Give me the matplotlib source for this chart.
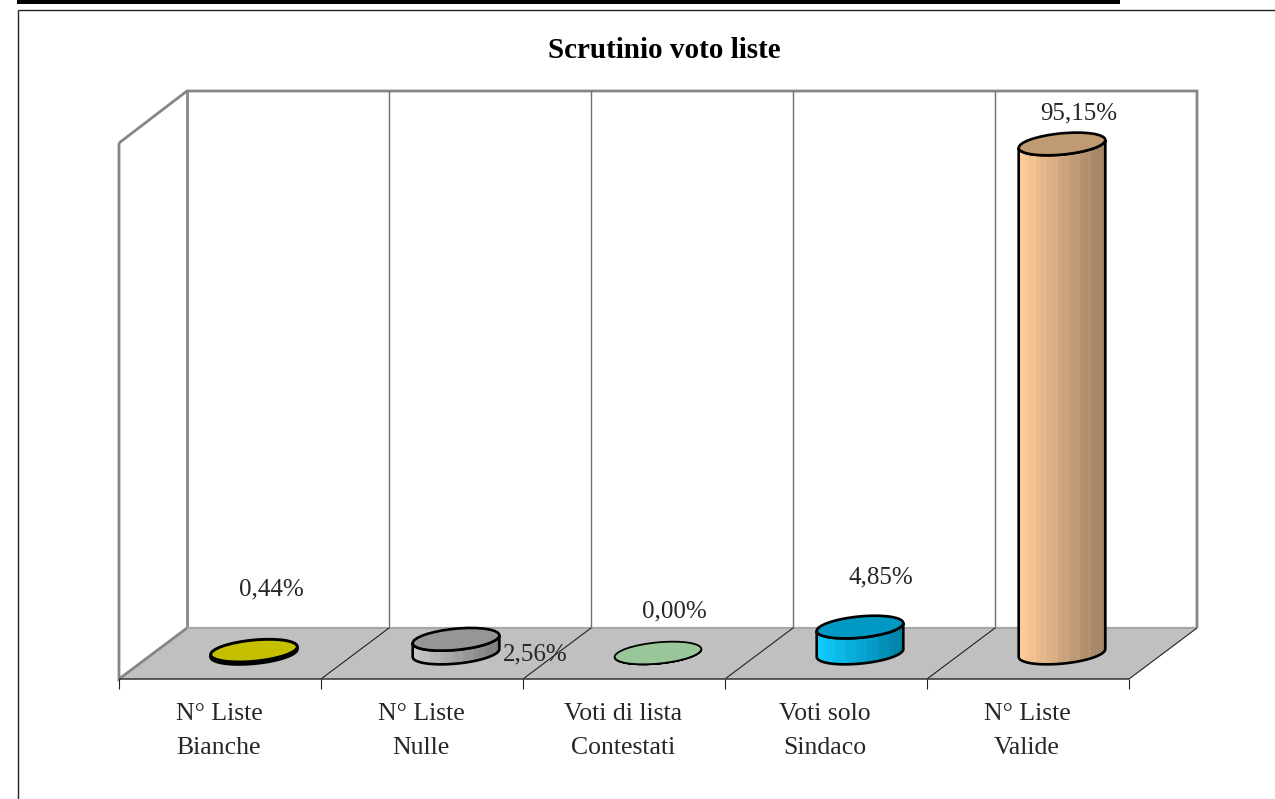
import numpy as np
import matplotlib
matplotlib.use("Agg")
import matplotlib.pyplot as plt
from matplotlib.colors import LinearSegmentedColormap
from matplotlib.patches import Polygon, Ellipse

categories = ["N° Liste\nBianche", "N° Liste\nNulle", "Voti di lista\nContestati",
              "Voti solo\nSindaco", "N° Liste\nValide"]
values = [0.44, 2.56, 0.00, 4.85, 95.15]
value_labels = ["0,44%", "2,56%", "0,00%", "4,85%", "95,15%"]
title = "Scrutinio voto liste"

# styles, one per bar: top, body left, body right
top_colors = ["#C4C000", "#969696", "#99C799", "#0099C4", "#C09A70"]
body_left = ["#E0DC00", "#C8C8C8", "#A8D8A8", "#0FCCFF", "#FFCC99"]
body_right = ["#8C8A00", "#7C7C7C", "#78A078", "#007FA3", "#9C8064"]
edge_widths = [2.1, 1.9, 1.3, 1.9, 1.9]

# label centres in pixels, chart frame in pixels
label_pos = [(271, 589), (535, 654), (674, 611), (881, 577), (1079, 113)]
front_x, back_x = 119, 187
front_y, back_y, wall_top = 679, 628, 91
cat_w = 202
depth_x, depth_y = back_x - front_x, front_y - back_y
px_per_pct = 5.35
base_y = 653
first_x = 254

GRAY = "#868686"
TEXT = "#262626"

plt.rcParams["font.family"] = ["Liberation Serif", "DejaVu Serif"]

fig = plt.figure(figsize=(12.75, 7.99), dpi=100)
ax = fig.add_axes([0, 0, 1, 1])
ax.set_axis_off()


def line(xs, ys, color=GRAY, lw=1.5, z=2):
    ax.plot(xs, ys, color=color, lw=lw, solid_capstyle="butt", solid_joinstyle="miter", zorder=z)


# page rules and outer frame
line([17, 1120], [1.5, 1.5], "black", 2.9, 1)
line([18, 1275], [10, 10], "#222222", 1.0, 1)
line([18, 18], [10, 799], "#222222", 1.0, 1)

# floor
right_x = front_x + cat_w * len(values)
ax.add_patch(Polygon([(front_x, front_y), (back_x, back_y), (right_x + depth_x, back_y), (right_x, front_y)],
                     closed=True, fc="#C0C0C0", ec="none", zorder=1))

# walls
line([front_x, back_x, right_x + depth_x, right_x + depth_x], [143, wall_top, wall_top, back_y], GRAY, 2.0)
line([front_x, front_x, back_x], [143, front_y, back_y], GRAY, 2.0)
line([back_x, back_x], [wall_top, back_y], GRAY, 2.0)
line([back_x, right_x + depth_x], [back_y, back_y], "#A8A8A8", 1.6)

# grid lines and axis
for i in range(1, len(values)):
    gx = front_x + cat_w * i
    line([gx + depth_x, gx + depth_x], [wall_top, back_y], "#707070", 1.0)
    line([gx, gx + depth_x], [front_y, back_y], "#222222", 0.8, 3)
line([right_x, right_x + depth_x], [front_y, back_y], "#222222", 0.8, 3)
line([front_x, right_x], [front_y, front_y], "#333333", 1.1, 3)
for i in range(len(values) + 1):
    gx = front_x + cat_w * i
    line([gx, gx], [front_y, front_y + 10], "#222222", 0.8, 3)

# cylinders
a, b, theta = 43.5, 10.6, np.radians(-5.5)
t_r = np.arctan2(-b * np.sin(theta), a * np.cos(theta))
t = np.linspace(t_r, t_r + np.pi, 60)
arc_x = a * np.cos(t) * np.cos(theta) - b * np.sin(t) * np.sin(theta)
arc_y = a * np.cos(t) * np.sin(theta) + b * np.sin(t) * np.cos(theta)

for i, v in enumerate(values):
    cx = first_x + cat_w * i
    top_y = base_y - v * px_per_pct
    outline = np.vstack([np.c_[cx + arc_x, base_y + arc_y],
                         np.c_[cx + arc_x[::-1], top_y + arc_y[::-1]]])
    body = Polygon(outline, closed=True, fc="none", ec="black", lw=edge_widths[i], zorder=6)
    ax.add_patch(body)
    cmap = LinearSegmentedColormap.from_list("body", [body_left[i], body_right[i]])
    # vertical facets, every other one a touch lighter
    shade = np.linspace(0, 1, 24)
    shade[1::3] = np.clip(shade[1::3] - 0.06, 0, 1)
    img = ax.imshow(shade[None, :], cmap=cmap, vmin=0, vmax=1, aspect="auto", zorder=5, interpolation="nearest",
                    extent=(cx - 44, cx + 44, base_y + 15, top_y - 15))
    img.set_clip_path(Polygon(outline, closed=True, transform=ax.transData))
    ax.add_patch(Ellipse((cx, top_y), 2 * a, 2 * b, angle=np.degrees(theta),
                         fc=top_colors[i], ec="black", lw=edge_widths[i], zorder=7))
    ax.text(label_pos[i][0], label_pos[i][1], value_labels[i], ha="center", va="center",
            fontsize=18, color=TEXT, zorder=8)
    ax.text(cx - 35, 731, categories[i], ha="center", va="center", fontsize=18.5, color=TEXT,
            linespacing=1.7, zorder=8)

ax.text(664, 50, title, ha="center", va="center", fontsize=21, fontweight="bold", color="black")

ax.set_xlim(0, 1275)
ax.set_ylim(799, 0)
fig.savefig("out.png", dpi=100)
